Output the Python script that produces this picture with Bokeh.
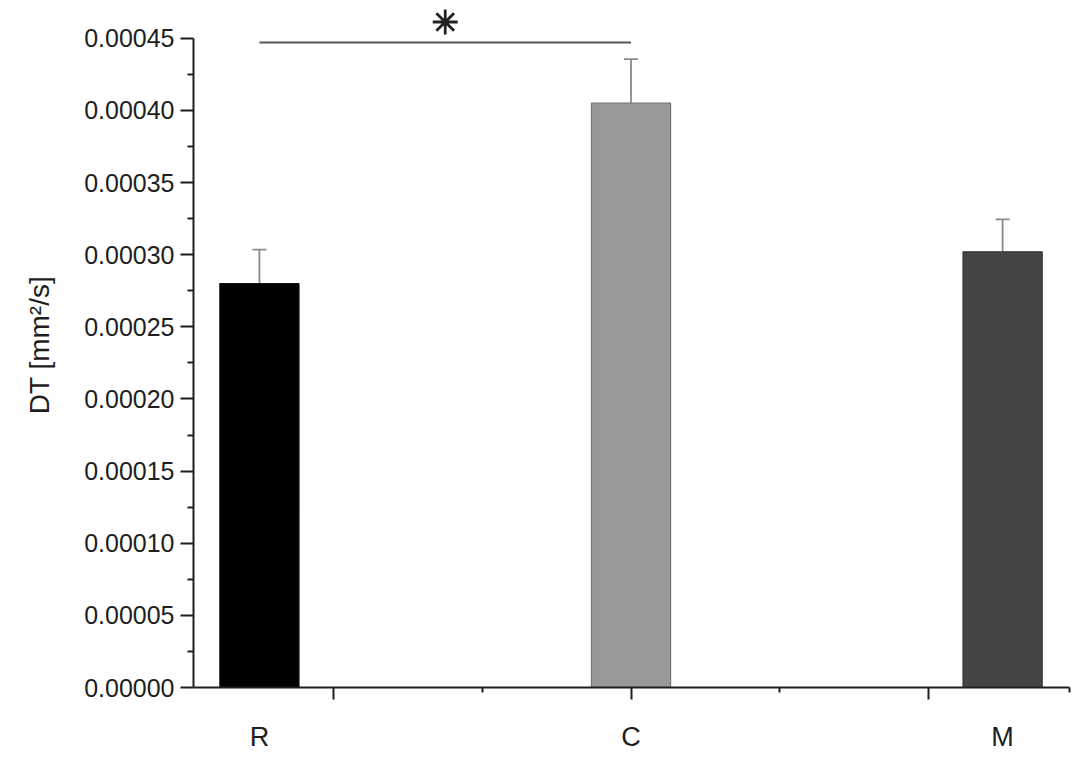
from bokeh.plotting import figure
from bokeh.models import Range1d, FixedTicker, LinearAxis, Whisker, ColumnDataSource, TeeHead, PrintfTickFormatter
from bokeh.embed import file_html
from bokeh.resources import INLINE

# ---- data ----
categories = ["R", "C", "M"]
x_pos = [1, 2, 3]
dt_mean = [0.000280, 0.000405, 0.000302]
dt_err = [0.0000235, 0.0000305, 0.0000225]
bar_colors = ["#000000", "#999999", "#444444"]
bar_edges = ["#111111", "#777777", "#333333"]
y_ticks = [0.0, 0.00005, 0.00010, 0.00015, 0.00020, 0.00025, 0.00030, 0.00035, 0.00040, 0.00045]
y_minor = [0.000025, 0.000075, 0.000125, 0.000175, 0.000225, 0.000275, 0.000325, 0.000375, 0.000425]
x_major_ticks = [1.2, 2.0, 2.8]
x_minor_ticks = [1.6, 2.4, 3.18]
sig_pair = ("R", "C")
sig_level = 0.000447
sig_text = "*"

FONT = "Liberation Sans"
INK = "#1e1e1e"

src = ColumnDataSource(dict(
    x=x_pos, top=dt_mean,
    upper=[m + e for m, e in zip(dt_mean, dt_err)],
    color=bar_colors, edge=bar_edges,
))

p = figure(width=1071, height=754, output_backend="svg", toolbar_location=None,
           x_range=Range1d(0.8226, 3.18), y_range=Range1d(0, 0.0004748),
           min_border_left=193, min_border_right=2, min_border_top=2, min_border_bottom=62)
p.outline_line_color = None
p.xgrid.visible = False
p.ygrid.visible = False
p.background_fill_color = "white"

p.vbar(x="x", top="top", width=0.213, bottom=0, source=src,
       fill_color="color", line_color="edge", line_width=1.2)

wh = Whisker(base="x", upper="upper", lower="top", source=src,
             line_color="#8a8a8a", line_width=1.8,
             upper_head=TeeHead(size=14, line_color="#8a8a8a", line_width=1.8),
             lower_head=None)
p.add_layout(wh)

# significance bracket
xa = x_pos[categories.index(sig_pair[0])]
xb = x_pos[categories.index(sig_pair[1])]
p.line([xa, xb], [sig_level, sig_level], line_color="#555555", line_width=2)
p.scatter([(xa + xb) / 2], [sig_level + 0.0000143], marker="asterisk", size=25,
          line_color="#222222", line_width=2.8)

# y axis
ya = p.yaxis[0]
ya.ticker = FixedTicker(ticks=y_ticks, minor_ticks=y_minor)
ya.formatter = PrintfTickFormatter(format="%.5f")
ya.bounds = (0, 0.00045)
ya.axis_label = "DT [mm²/s]"
ya.axis_label_text_font = FONT
ya.axis_label_text_font_style = "normal"
ya.axis_label_text_font_size = "28px"
ya.axis_label_text_color = INK
ya.axis_label_standoff = 26
ya.major_label_text_font = FONT
ya.major_label_text_font_size = "25px"
ya.major_label_text_color = INK
ya.major_label_standoff = 6
ya.axis_line_width = 2
ya.axis_line_color = INK
ya.major_tick_line_width = 2
ya.major_tick_line_color = INK
ya.minor_tick_line_width = 2
ya.minor_tick_line_color = INK
ya.major_tick_out = 13
ya.major_tick_in = 0
ya.minor_tick_out = 6
ya.minor_tick_in = 0

# x axis: tick marks
xa0 = p.xaxis[0]
xa0.ticker = FixedTicker(ticks=x_major_ticks, minor_ticks=x_minor_ticks)
xa0.major_label_overrides = {t: "" for t in x_major_ticks}
xa0.major_label_text_font_size = "1px"
xa0.major_label_standoff = 0
xa0.axis_line_width = 2
xa0.axis_line_color = INK
xa0.major_tick_line_width = 2
xa0.major_tick_line_color = INK
xa0.minor_tick_line_width = 2
xa0.minor_tick_line_color = INK
xa0.major_tick_out = 12
xa0.major_tick_in = 0
xa0.minor_tick_out = 5
xa0.minor_tick_in = 0

# x axis: category labels
xl = LinearAxis(ticker=FixedTicker(ticks=x_pos, minor_ticks=[]),
                major_label_overrides={x: c for x, c in zip(x_pos, categories)})
xl.axis_line_color = None
xl.major_tick_line_color = None
xl.minor_tick_line_color = None
xl.major_tick_out = 0
xl.major_tick_in = 0
xl.major_label_text_font = FONT
xl.major_label_text_font_size = "27px"
xl.major_label_text_color = INK
xl.major_label_standoff = 22
p.add_layout(xl, "below")

open("out.html", "w").write(file_html(p, INLINE))
